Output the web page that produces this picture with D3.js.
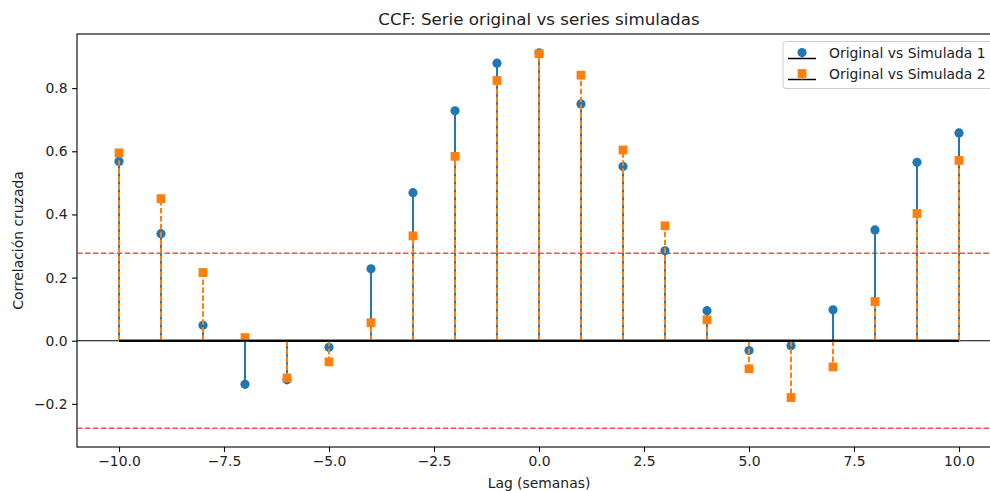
<!DOCTYPE html>
<html>
<head>
<meta charset="utf-8">
<script src="https://cdn.jsdelivr.net/npm/d3@7"></script>
<style>
  body { margin: 0; background: #fff; }
  svg { display: block; font-family: "DejaVu Sans", sans-serif; }
</style>
</head>
<body>
<div id="chart"></div>
<script>
// lags and cross-correlation values
const lags = [-10, -9, -8, -7, -6, -5, -4, -3, -2, -1, 0, 1, 2, 3, 4, 5, 6, 7, 8, 9, 10];
const ccfSim1 = [0.568, 0.339, 0.049, -0.138, -0.124, -0.021, 0.228, 0.469, 0.728, 0.879, 0.912,
                 0.750, 0.552, 0.285, 0.095, -0.031, -0.016, 0.098, 0.351, 0.565, 0.658];
const ccfSim2 = [0.595, 0.450, 0.216, 0.010, -0.118, -0.067, 0.057, 0.332, 0.584, 0.824, 0.909,
                 0.841, 0.604, 0.364, 0.066, -0.089, -0.180, -0.083, 0.124, 0.403, 0.571];
const confLimit = 0.2772; // 1.96 / sqrt(50)
const xTicks = [-10, -7.5, -5, -2.5, 0, 2.5, 5, 7.5, 10];
const yTicks = [-0.2, 0, 0.2, 0.4, 0.6, 0.8];
const seriesNames = ["Original vs Simulada 1", "Original vs Simulada 2"];

const width = 990, height = 491;
const margin = { top: 34, right: -11, bottom: 44, left: 77 };

const svg = d3.select("#chart").append("svg")
    .attr("width", width)
    .attr("height", height);

const x = d3.scaleLinear().domain([-11, 11]).range([margin.left, width - margin.right]);
const y = d3.scaleLinear().domain([-0.3366, 0.9714]).range([height - margin.bottom, margin.top]);

const fmt = v => (v < 0 ? "\u2212" : "") + Math.abs(v).toFixed(1);
const fs = "13.9px";

// axes
const xAxis = svg.append("g")
    .attr("transform", `translate(0,${height - margin.bottom})`)
    .call(d3.axisBottom(x).tickValues(xTicks).tickFormat(fmt).tickSizeOuter(0).tickSize(4.9).tickPadding(4.5));
const yAxis = svg.append("g")
    .attr("transform", `translate(${margin.left},0)`)
    .call(d3.axisLeft(y).tickValues(yTicks).tickFormat(fmt).tickSizeOuter(0).tickSize(4.9).tickPadding(4.5));
[xAxis, yAxis].forEach(g => {
    g.select(".domain").remove();
    g.selectAll("line").attr("stroke", "#000").attr("stroke-width", 1.1);
    g.selectAll("text").attr("fill", "#222").style("font-size", fs).style("font-family", "DejaVu Sans");
});

// spines
svg.append("rect")
    .attr("x", margin.left).attr("y", margin.top)
    .attr("width", x(11) - margin.left).attr("height", y(-0.3366) - margin.top)
    .attr("fill", "none").attr("stroke", "#000").attr("stroke-width", 1.1);

// confidence limits
[confLimit, -confLimit].forEach(c => {
    svg.append("line")
        .attr("x1", margin.left).attr("x2", x(11))
        .attr("y1", y(c)).attr("y2", y(c))
        .attr("stroke", "red").attr("stroke-opacity", 0.7)
        .attr("stroke-width", 1.5).attr("stroke-dasharray", "5.55,2.4");
});

// zero line across the axes
svg.append("line")
    .attr("x1", margin.left).attr("x2", x(11))
    .attr("y1", y(0)).attr("y2", y(0))
    .attr("stroke", "#000").attr("stroke-width", 1.1);

function drawStem(vals, color, dash, marker) {
    const g = svg.append("g");
    g.selectAll("line.stem")
        .data(lags)
        .join("line")
        .attr("class", "stem")
        .attr("x1", d => x(d)).attr("x2", d => x(d))
        .attr("y1", y(0)).attr("y2", (d, i) => y(vals[i]))
        .attr("stroke", color).attr("stroke-width", 2)
        .attr("stroke-dasharray", dash);
    if (marker === "circle") {
        g.selectAll("circle")
            .data(lags)
            .join("circle")
            .attr("cx", d => x(d)).attr("cy", (d, i) => y(vals[i]))
            .attr("r", 4.6).attr("fill", color);
    } else {
        g.selectAll("rect")
            .data(lags)
            .join("rect")
            .attr("x", d => x(d) - 4.4).attr("y", (d, i) => y(vals[i]) - 4.4)
            .attr("width", 8.8).attr("height", 8.8).attr("fill", color);
    }
    g.append("line")
        .attr("x1", x(lags[0])).attr("x2", x(lags[lags.length - 1]))
        .attr("y1", y(0)).attr("y2", y(0))
        .attr("stroke", "#000").attr("stroke-width", 2);
}

drawStem(ccfSim1, "#1f77b4", null, "circle");
drawStem(ccfSim2, "#ff7f0e", "5.55,2.4", "square");

// legend
const lg = svg.append("g").attr("transform", "translate(783,41.5)");
lg.append("rect")
    .attr("width", 240).attr("height", 47).attr("rx", 3)
    .attr("fill", "#fff").attr("fill-opacity", 0.8)
    .attr("stroke", "#ccc").attr("stroke-width", 1);
seriesNames.forEach((name, i) => {
    const cy = 12 + i * 21;
    const row = lg.append("g").attr("transform", `translate(0,${cy})`);
    row.append("line").attr("x1", 5).attr("x2", 33).attr("y1", 5).attr("y2", 5)
        .attr("stroke", "#000").attr("stroke-width", 1.5);
    row.append("line").attr("x1", 19).attr("x2", 19).attr("y1", 5).attr("y2", -1)
        .attr("stroke", i === 0 ? "#1f77b4" : "#ff7f0e").attr("stroke-width", 1.5);
    if (i === 0) {
        row.append("circle").attr("cx", 19).attr("cy", -1).attr("r", 4.6).attr("fill", "#1f77b4");
    } else {
        row.append("rect").attr("x", 14.6).attr("y", -5.4).attr("width", 8.8).attr("height", 8.8).attr("fill", "#ff7f0e");
    }
    row.append("text").attr("x", 46).attr("y", 0).attr("dy", "0.35em")
        .style("font-size", fs).attr("fill", "#222").text(name);
});

// title and labels
svg.append("text")
    .attr("x", x(0)).attr("y", 25)
    .attr("text-anchor", "middle")
    .style("font-size", "16.7px").attr("fill", "#222")
    .text("CCF: Serie original vs series simuladas");
svg.append("text")
    .attr("x", x(0)).attr("y", 488)
    .attr("text-anchor", "middle")
    .style("font-size", fs).attr("fill", "#222")
    .text("Lag (semanas)");
svg.append("text")
    .attr("transform", `translate(23,${(margin.top + height - margin.bottom) / 2}) rotate(-90)`)
    .attr("text-anchor", "middle")
    .style("font-size", fs).attr("fill", "#222")
    .text("Correlación cruzada");
</script>
</body>
</html>
